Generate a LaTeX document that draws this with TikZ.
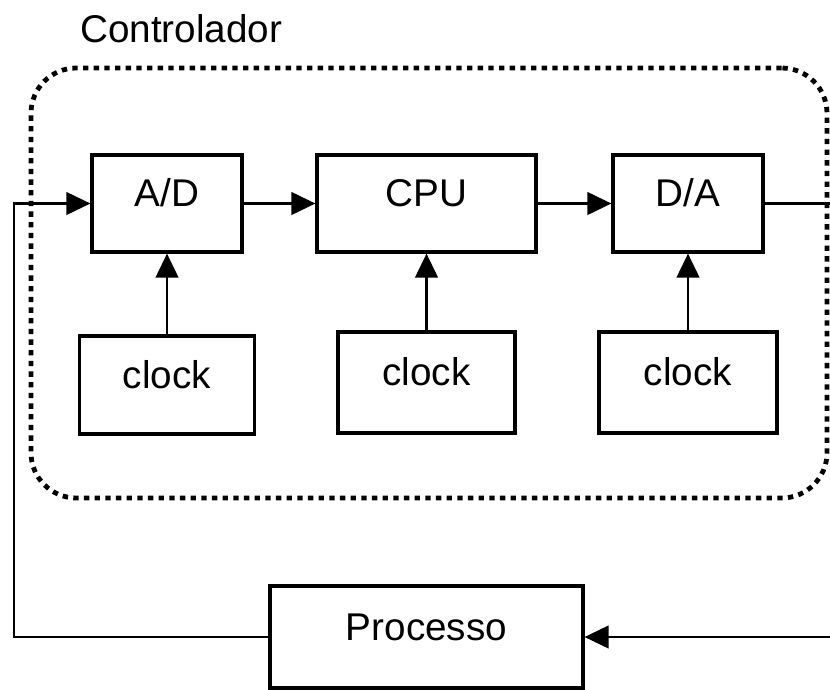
\documentclass[tikz,border=0pt]{standalone}
\usepackage{fontspec}
\setmainfont{Liberation Sans}
\usetikzlibrary{arrows.meta}
\begin{document}
\begin{tikzpicture}[x=0.75pt,y=-0.75pt,
  font=\fontsize{29}{34}\selectfont,
  blk/.style={draw=black, line width=2.4pt, rectangle, inner sep=0pt, text height=5pt, text depth=0pt},
  conn/.style={line width=1.6pt},
  arr/.style={conn, -{Triangle[length=18pt,width=17pt]}},
  dotbox/.style={draw=black, line width=3.6pt, dash pattern=on 4pt off 4pt, rounded corners=34pt, rectangle, inner sep=0pt}
]
\useasboundingbox (0,0) rectangle (830,689);
\fill[white] (0,0) rectangle (830,689);

% controller frame
\node[dotbox, minimum width=597pt, minimum height=322.5pt] (ctrl) at (429,283) {};
\node[anchor=base west, inner sep=0pt] (title) at (80,42) {Controlador};

% top row
\node[blk, minimum width=112.5pt, minimum height=72.75pt] (AD) at (167,203.5) {A/D};
\node[blk, minimum width=164.25pt, minimum height=72.75pt] (CPU) at (426.5,203.5) {CPU};
\node[blk, minimum width=112.5pt, minimum height=72.75pt] (DA) at (688,203.5) {D/A};

% clocks
\node[blk, minimum width=131.25pt, minimum height=73.5pt] (clk1) at (167,385) {clock};
\node[blk, minimum width=132.75pt, minimum height=75.75pt] (clk2) at (426.5,382.5) {clock};
\node[blk, minimum width=133.5pt, minimum height=75.75pt] (clk3) at (688,382.5) {clock};

% process
\node[blk, minimum width=234.75pt, minimum height=76.5pt] (proc) at (426.5,637) {Processo};

% free ends and corners
\coordinate (outR) at (830,203.5);
\coordinate (inR) at (830,637);
\coordinate (fbL) at (14,637);

% connectors
\draw[arr] (AD) -- (CPU);
\draw[arr] (CPU) -- (DA);
\draw[conn] (DA) -- (outR);
\draw[arr] (inR) -- (proc);
\draw[arr] (proc.west) -- (fbL) |- (AD.west);
\draw[arr] (clk1) -- (AD);
\draw[arr] (clk2) -- (CPU);
\draw[arr] (clk3) -- (DA);
\end{tikzpicture}
\end{document}
